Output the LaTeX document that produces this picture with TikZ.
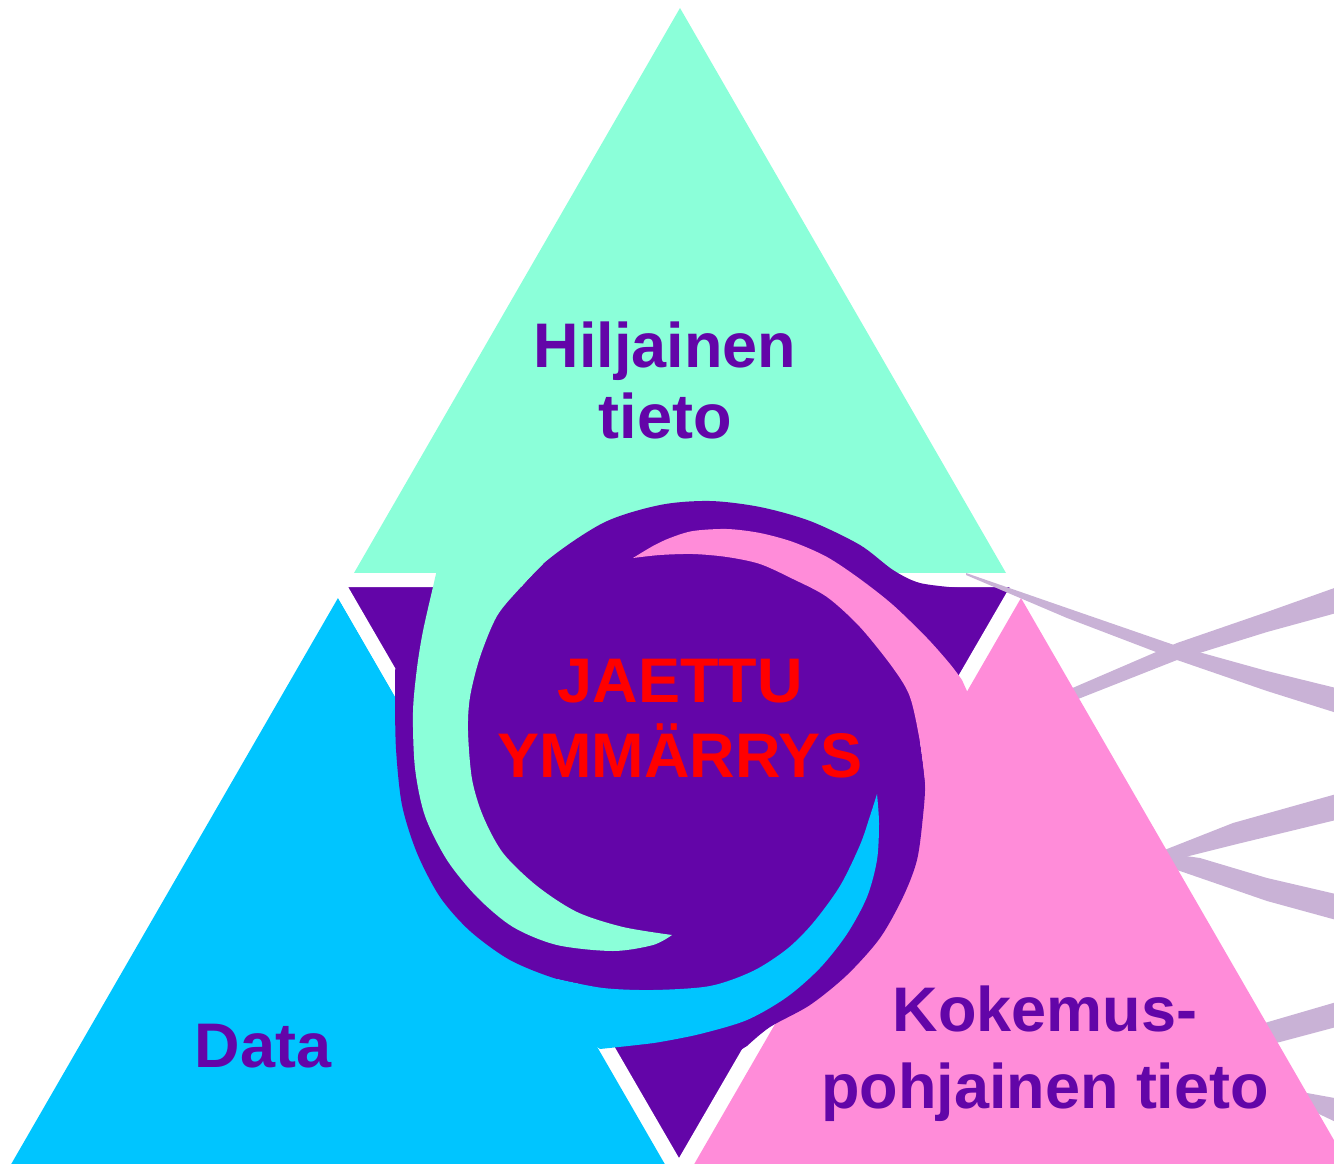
\documentclass[tikz,border=0pt]{standalone}
\usepackage{fontspec}
\setmainfont{Liberation Sans}
\definecolor{mint}{RGB}{139,255,217}
\definecolor{sky}{RGB}{0,197,255}
\definecolor{rose}{RGB}{255,140,217}
\definecolor{deep}{RGB}{99,5,168}
\definecolor{lilac}{RGB}{201,178,214}
\begin{document}
\begin{tikzpicture}[x=1pt, y=-1pt,
		tieto/.style={font=\fontsize{63}{71}\selectfont\bfseries, text=deep, align=center, inner sep=0pt},
		jaettu/.style={font=\fontsize{63}{75}\selectfont\bfseries, text=red, align=center, inner sep=0pt},
		band/.style={fill=lilac}]
	\useasboundingbox (0,0) rectangle (1334,1164);
	\clip (0,0) rectangle (1334,1164);

	\fill[band] (1040,702) -- (1177,643) -- (1267,612) -- (1340,586) -- (1340,612) -- (1267,632) -- (1177,660) -- (1040,714) -- cycle;
	\fill[band] (1150,855) -- (1167,849) -- (1233,823) -- (1340,793) -- (1340,819) -- (1233,845) -- (1177,859) -- (1150,867) -- cycle;
	\fill[band] (1150,851) -- (1200,858) -- (1267,878) -- (1340,895) -- (1340,921) -- (1267,901) -- (1180,871) -- (1150,863) -- cycle;
	\fill[band] (1230,1034) -- (1268,1022) -- (1340,1001) -- (1340,1026) -- (1280,1042) -- (1230,1054) -- cycle;
	\fill[band] (1280,1086) -- (1307,1093) -- (1340,1099) -- (1340,1124) -- (1317,1113) -- (1280,1101) -- cycle;

	\fill[mint] (680,8) -- (1006,573) -- (354,573) -- cycle;
	\fill[sky] (338,598) -- (674,1180) -- (2,1180) -- cycle;
	\fill[rose] (1021,598) -- (1357,1180) -- (685,1180) -- cycle;
	\filldraw[fill=deep, draw=white, line width=14pt, line join=miter] (336,580) -- (1022,580) -- (679,1172) -- cycle;

	\fill[band] (966,573) -- (1067,608) -- (1177,646) -- (1267,671) -- (1340,689) -- (1340,714) -- (1267,691) -- (1177,660) -- (1067,618) -- (966,575) -- cycle;

	\fill[deep] plot[smooth] coordinates {(497,616) (543,564) (603,523) (660,505) (710,501) (760,507) (810,521) (860,545) (893,570) (920,583) (960,588)} -- (975,600) -- (930,690)
		-- plot[smooth] coordinates {(920,742) (925,782) (923,816) (917,860) (903,897) (880,938) (847,975) (810,1005) (770,1027) (747,1046)} -- (700,1075) -- (640,1040)
		-- plot[smooth] coordinates {(603,988) (557,979) (510,960) (470,931) (440,897) (417,853) (402,805) (396,749) (395,697)} -- (395,670) -- (410,640) -- (450,600) -- cycle;

	\fill[mint] (438,565) -- plot[smooth] coordinates {(433,587) (423,631) (417,668) (413,712) (415,768) (425,816) (447,860) (477,897) (513,927) (557,945) (613,951) (653,945) (672,935)}
		-- plot[smooth] coordinates {(672,935) (623,927) (577,912) (537,886) (503,853) (483,816) (472,779) (468,731) (470,697) (480,657) (497,616) (520,588) (543,564)} -- cycle;
	\fill[rose] plot[smooth] coordinates {(633,558) (653,546) (670,538) (693,531) (727,529) (760,533) (793,542) (827,557) (860,579) (893,605) (927,638) (950,664) (962,680)} -- (980,720) -- (950,805) -- (927,805)
		-- plot[smooth] coordinates {(925,782) (920,742) (910,697) (893,668) (860,627) (827,597) (793,579) (760,564) (727,557) (693,554) (660,555) (633,558)} -- cycle;
	\fill[sky] plot[smooth] coordinates {(877,794) (879,823) (877,860) (867,897) (847,934) (820,968) (787,997) (747,1020) (700,1034) (660,1042) (637,1045) (600,1049)} -- (545,1010)
		-- plot[smooth] coordinates {(557,979) (603,988) (653,990) (710,986) (753,971) (787,949) (813,923) (840,886) (860,845) (870,816) (877,794)} -- cycle;

	\node[tieto, anchor=base] (hiljainen) at (665,438) {Hiljainen\\tieto};
	\node[jaettu, anchor=base] (ymmarrys) at (680,777) {JAETTU\\YMMÄRRYS};
	\node[tieto, anchor=base] (data) at (263,1067) {Data};
	\node[tieto, anchor=base] (kokemus) at (1045,1108) {Kokemus-\\[6pt]pohjainen tieto};
\end{tikzpicture}
\end{document}
